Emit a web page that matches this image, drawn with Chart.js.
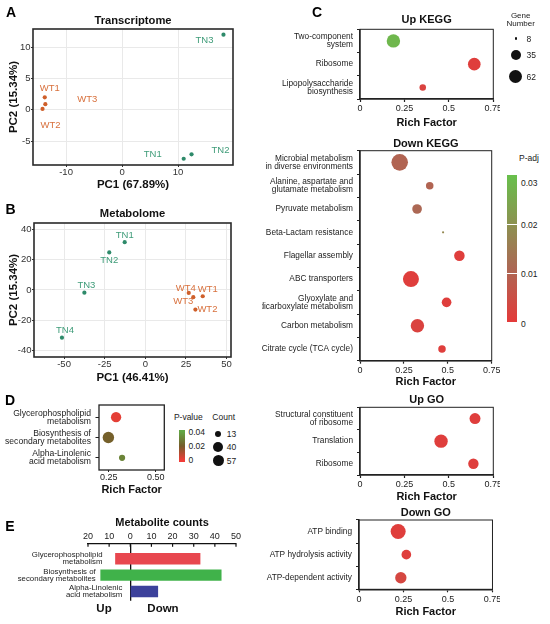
<!DOCTYPE html>
<html><head><meta charset="utf-8">
<script src="https://cdn.jsdelivr.net/npm/chart.js@4.4.1/dist/chart.umd.min.js"></script>
<style>
html,body{margin:0;padding:0;background:#fff;}
#fig{position:relative;width:550px;height:624px;overflow:hidden;font-family:'Liberation Sans',Arial,Helvetica,sans-serif;color:#1a1a1a;background:#fff;}
#fig canvas{position:absolute;}
.t{position:absolute;white-space:nowrap;line-height:1;}
.dot{position:absolute;border-radius:50%;background:#111;}
</style></head><body><div id="fig"></div>
<script>
// ================= DATA =================
// A: Transcriptome PCA
const A_samples = ['WT1','WT2','WT3','TN1','TN2','TN3'];
const A_pc1 = [-13.8, -14.2, -13.7, 11.0, 12.4, 18.1];
const A_pc2 = [2.0, 0.15, 0.9, -7.8, -7.1, 12.0];
const A_xTicks = [-10, 0, 10];
const A_yTicks = [-5, 0, 5, 10];

// B: Metabolome PCA
const B_samples = ['TN1','TN2','TN3','TN4','WT1','WT2','WT3','WT4'];
const B_pc1 = [-12.7, -22.2, -37.5, -51.3, 35.3, 30.8, 29.5, 26.7];
const B_pc2 = [31.6, 24.8, -1.8, -31.6, -4.2, -13.0, -4.8, -2.0];
const B_xTicks = [-50, -25, 0, 25, 50];
const B_yTicks = [-40, -20, 0, 20, 40];

// C: enrichment bubble plots
const C_xTicks = [0, 0.25, 0.5, 0.75];
const UK_terms = [['Two-component','system'], 'Ribosome', ['Lipopolysaccharide','biosynthesis']];
const UK_rich  = [0.188, 0.643, 0.353];
const UK_padj  = [0.028, 0.001, 0.002];
const UK_genes = [62, 55, 16];

const DK_terms = [['Microbial metabolism','in diverse environments'], ['Alanine, aspartate and','glutamate metabolism'],
  'Pyruvate metabolism', 'Beta-Lactam resistance', 'Flagellar assembly', 'ABC transporters',
  ['Glyoxylate and','dicarboxylate metabolism'], 'Carbon metabolism', 'Citrate cycle (TCA cycle)'];
const DK_rich  = [0.226, 0.397, 0.325, 0.473, 0.566, 0.290, 0.493, 0.327, 0.467];
const DK_padj  = [0.010, 0.010, 0.011, 0.018, 0.001, 0.001, 0.001, 0.002, 0.001];
const DK_genes = [97, 20, 32, 8, 38, 90, 32, 62, 20];

const UG_terms = [['Structural constituent','of ribosome'], 'Translation', 'Ribosome'];
const UG_rich  = [0.647, 0.456, 0.638];
const UG_padj  = [0.001, 0.001, 0.001];
const UG_genes = [41, 62, 37];

const DG_terms = ['ATP binding', 'ATP hydrolysis activity', 'ATP-dependent activity'];
const DG_rich  = [0.220, 0.266, 0.235];
const DG_padj  = [0.001, 0.001, 0.003];
const DG_genes = [79, 32, 44];

const GENE_legend = [8, 35, 62];
const PADJ_ticks = [0.03, 0.02, 0.01, 0];

// D: metabolite KEGG enrichment
const D_terms = [['Glycerophospholipid','metabolism'], ['Biosynthesis of','secondary metabolites'], ['Alpha-Linolenic','acid metabolism']];
const D_rich  = [0.289, 0.248, 0.321];
const D_pval  = [0.002, 0.021, 0.031];
const D_count = [40, 57, 13];
const D_xTicks = [0.25, 0.5];
const COUNT_legend = [13, 40, 57];
const PVAL_ticks = [0.04, 0.02, 0];

// E: metabolite counts
const E_terms = [['Glycerophospholipid','metabolism'], ['Biosynthesis of','secondary metabolites'], ['Alpha-Linolenic','acid metabolism']];
const E_up   = [7, 14, 0];
const E_down = [33, 43, 13];
const E_xTicks = [-20, -10, 0, 10, 20, 30, 40, 50];

// ================= STYLE =================
const FONT = "'Liberation Sans', Arial, Helvetica, sans-serif";
Chart.defaults.font.family = FONT;
Chart.defaults.color = '#222';
Chart.defaults.animation = false;
Chart.defaults.responsive = false;
Chart.defaults.plugins.legend.display = false;
Chart.defaults.plugins.tooltip.enabled = false;

const WT_PT = '#CF5F2A', TN_PT = '#2E8A6A', WT_TX = '#D8703C', TN_TX = '#3F9C79';
const A_labelShift = [[5,-9],[8,16],[42,-5],[-31,-4],[29,-4],[-19,6]];
const B_labelShift = [[0,-7],[0,8],[2,-7],[3,-7],[5,-7],[12,0],[-10,4],[-3,-5]];
const E_colors = ['#E8474F', '#40B24A', '#3C419B'];
const E_labelGap = [13, 5, 8];

const PADJ_stops = [[0,[228,58,58]],[0.011,[172,104,84]],[0.03,[104,192,76]]];
const PVAL_stops = [[0,[240,60,55]],[0.02,[118,92,42]],[0.04,[98,165,68]]];
function lerpStops(stops, v){
  if (v <= stops[0][0]) return stops[0][1];
  for (let i=1;i<stops.length;i++){
    if (v <= stops[i][0]){
      const [a,ca]=stops[i-1],[b,cb]=stops[i],t=(v-a)/(b-a);
      return ca.map((c,k)=>Math.round(c+(cb[k]-c)*t));
    }
  }
  return stops[stops.length-1][1];
}
const rgb = c => `rgb(${c[0]},${c[1]},${c[2]})`;
const padjColor = p => rgb(lerpStops(PADJ_stops, p));
const pvalColor = p => rgb(lerpStops(PVAL_stops, p));
const geneRadius = n => 1.1 + 5.6*Math.sqrt(Math.max(0,n-8)/54);
const countRadius = n => 3.1 + 2.6*Math.sqrt(Math.max(0,n-13)/44);
const isWT = s => s.startsWith('WT');

// ================= HELPERS =================
const fig = document.getElementById('fig');
function canvasAt(c){
  const el=document.createElement('canvas');
  const w=c[2]-c[0], h=c[3]-c[1];
  el.width=w; el.height=h;
  el.style.left=c[0]+'px'; el.style.top=c[1]+'px';
  el.style.width=w+'px'; el.style.height=h+'px';
  fig.appendChild(el); return el;
}
function txt(s,x,y,o={}){
  const d=document.createElement('div'); d.className='t'; d.textContent=s;
  d.style.fontSize=(o.size||9)+'px'; if(o.bold) d.style.fontWeight='bold';
  d.style.color=o.color||'#1a1a1a'; d.style.top=y+'px';
  const al=o.align||'center';
  if(al==='center'){d.style.left=x+'px'; d.style.transform='translate(-50%,-50%)';}
  else if(al==='left'){d.style.left=x+'px'; d.style.transform='translateY(-50%)';}
  else {d.style.right=(550-x)+'px'; d.style.transform='translateY(-50%)';}
  fig.appendChild(d); return d;
}
function dot(x,y,r,color){
  const d=document.createElement('div'); d.className='dot';
  d.style.left=(x-r)+'px'; d.style.top=(y-r)+'px'; d.style.width=(2*r)+'px'; d.style.height=(2*r)+'px';
  if(color) d.style.background=color; fig.appendChild(d);
}
function box(x,y,w,h,bg){
  const d=document.createElement('div'); d.style.position='absolute';
  d.style.left=x+'px'; d.style.top=y+'px'; d.style.width=w+'px'; d.style.height=h+'px'; d.style.background=bg;
  fig.appendChild(d); return d;
}
const LH = 1.2;
const fixX = h => s => { s.height=h; s.paddingLeft=0; s.paddingRight=0; };
const fixY = w => s => { s.width=w; s.paddingTop=0; s.paddingBottom=0; };
const setTicks = vals => s => { s.ticks = vals.map(v=>({value:v})); };
function titleOpt(text,size,cy,area,canvas){
  const h=area[1]-canvas[1], lh=size*LH, pb=area[1]-cy-lh/2, pt=h-lh-pb;
  return {display:true,text,fullSize:false,font:{size,weight:'bold'},color:'#111',padding:{top:pt,bottom:pb}};
}
const xTitleBottom=(text,size,cy,cb)=>({display:true,text,font:{size,weight:'bold'},color:'#111',padding:{top:0,bottom:cb-cy-size*LH/2}});
const xTitleTop=(text,size,cy,ct)=>({display:true,text,font:{size,weight:'bold'},color:'#111',padding:{top:cy-ct-size*LH/2,bottom:0}});
const yTitleLeft=(text,size,cx,cl)=>({display:true,text,font:{size,weight:'bold'},color:'#111',padding:{top:cx-cl-size*LH/2,bottom:0}});
function framePlugin(w,color){
  return {id:'frame',afterDraw(chart){
    const a=chart.chartArea,ctx=chart.ctx; ctx.save(); ctx.strokeStyle=color; ctx.lineWidth=w;
    ctx.strokeRect(a.left,a.top,a.right-a.left,a.bottom-a.top); ctx.restore();
  }};
}
function labelPlugin(names,shift){
  return {id:'ptlabels',afterDatasetsDraw(chart){
    const meta=chart.getDatasetMeta(0),ctx=chart.ctx; ctx.save();
    ctx.font=`9.5px ${FONT}`; ctx.textAlign='center'; ctx.textBaseline='middle';
    names.forEach((n,i)=>{const p=meta.data[i]; ctx.fillStyle=isWT(n)?WT_TX:TN_TX; ctx.fillText(n,p.x+shift[i][0],p.y+shift[i][1]);});
    ctx.restore();
  }};
}

// ================= PCA PANELS =================
function pcaChart(canvas,area,title,titleCy,names,pc1,pc2,xr,yr,xt,yt,xlab,xCy,ylab,yCx,shift){
  new Chart(canvasAt(canvas),{
    type:'scatter',
    data:{datasets:[{data:names.map((s,i)=>({x:pc1[i],y:pc2[i]})),
      pointRadius:2.1,pointHoverRadius:2.1,pointBorderWidth:0,
      pointBackgroundColor:names.map(s=>isWT(s)?WT_PT:TN_PT)}]},
    options:{
      layout:{padding:{left:0,top:0,right:canvas[2]-area[2],bottom:0}},
      plugins:{title:titleOpt(title,11.2,titleCy,area,canvas)},
      scales:{
        x:{type:'linear',min:xr[0],max:xr[1],afterBuildTicks:setTicks(xt),afterFit:fixX(canvas[3]-area[3]),
          ticks:{callback:v=>String(v),font:{size:9.5},color:'#333',padding:0,maxRotation:0},
          grid:{color:'#E9E9E9',tickLength:2,tickColor:'#333'},border:{display:false},
          title:xTitleBottom(xlab,11.5,xCy,canvas[3])},
        y:{type:'linear',min:yr[0],max:yr[1],afterBuildTicks:setTicks(yt),afterFit:fixY(area[0]-canvas[0]),
          ticks:{callback:v=>String(v),font:{size:9.5},color:'#333',padding:0.5},
          grid:{color:'#E9E9E9',tickLength:2,tickColor:'#333'},border:{display:false},
          title:yTitleLeft(ylab,11.5,yCx,canvas[0])}
      }
    },
    plugins:[framePlugin(1.6,'#2a2a2a'),labelPlugin(names,shift)]
  });
}
pcaChart([0,8,240,192],[33,29,233,165],'Transcriptome',20.5,A_samples,A_pc1,A_pc2,[-15.9,19.8],[-8.8,12.9],
  A_xTicks,A_yTicks,'PC1 (67.89%)',184.5,'PC2 (15.34%)',13.5,A_labelShift);
pcaChart([0,203,240,386],[34,223,231,357],'Metabolome',214.3,B_samples,B_pc1,B_pc2,[-68.5,52.7],[-44.4,44.3],
  B_xTicks,B_yTicks,'PC1 (46.41%)',377.7,'PC2 (15.34%)',13.5,B_labelShift);

// ================= C PANELS =================
function cChart(canvas,area,title,titleCy,xTitleCy,terms,rich,padj,genes){
  new Chart(canvasAt(canvas),{
    type:'scatter',
    data:{datasets:[{data:rich.map((x,i)=>({x,y:i})),
      pointRadius:c=>geneRadius(genes[c.dataIndex]),pointHoverRadius:c=>geneRadius(genes[c.dataIndex]),
      pointBackgroundColor:c=>padjColor(padj[c.dataIndex]),pointBorderWidth:0}]},
    options:{
      layout:{padding:{left:0,top:0,right:canvas[2]-area[2],bottom:0}},
      plugins:{title:titleOpt(title,11,titleCy,area,canvas)},
      scales:{
        x:{type:'linear',min:0,max:0.75,afterBuildTicks:setTicks(C_xTicks),afterFit:fixX(canvas[3]-area[3]),
          ticks:{callback:v=>String(v),font:{size:9},color:'#222',padding:1.5,maxRotation:0},
          grid:{drawOnChartArea:false,tickLength:3,tickColor:'#222',tickWidth:1.2},
          border:{color:'#222',width:1.5},
          title:xTitleBottom('Rich Factor',11,xTitleCy,canvas[3])},
        y:{type:'category',labels:terms,offset:true,afterFit:fixY(area[0]-canvas[0]),
          ticks:{font:{size:8.3,lineHeight:0.94},color:'#222',padding:4,autoSkip:false},
          grid:{offset:true,drawOnChartArea:false,tickLength:3,tickColor:'#222',tickWidth:1.2},
          border:{color:'#222',width:1.5}}
      }
    },
    plugins:[framePlugin(1,'#222')]
  });
}
cChart([262,10,500,130],[360,29.3,496,99],'Up KEGG',20,123.3,UK_terms,UK_rich,UK_padj,UK_genes);
cChart([262,134,500,389],[360,150.7,496,360.7],'Down KEGG',144,382,DK_terms,DK_rich,DK_padj,DK_genes);
cChart([262,390,500,504],[360,407.3,496,475],'Up GO',400,496.7,UG_terms,UG_rich,UG_padj,UG_genes);
cChart([262,505,500,619],[359,520,495,589.3],'Down GO',513.3,611.7,DG_terms,DG_rich,DG_padj,DG_genes);

// ================= D PANEL =================
(function(){
  const canvas=[0,398,170,500], area=[99,405,164.3,470];
  new Chart(canvasAt(canvas),{
    type:'scatter',
    data:{datasets:[{data:D_rich.map((x,i)=>({x,y:i+1})),
      pointRadius:c=>countRadius(D_count[c.dataIndex]),pointHoverRadius:c=>countRadius(D_count[c.dataIndex]),
      pointBackgroundColor:c=>pvalColor(D_pval[c.dataIndex]),pointBorderWidth:0}]},
    options:{
      layout:{padding:{left:0,top:area[1]-canvas[1],right:canvas[2]-area[2],bottom:0}},
      scales:{
        x:{type:'linear',min:0.198,max:0.546,afterBuildTicks:setTicks(D_xTicks),afterFit:fixX(canvas[3]-area[3]),
          ticks:{callback:v=>v.toFixed(2),font:{size:9},color:'#222',padding:0.5,maxRotation:0},
          grid:{drawOnChartArea:false,tickLength:2,tickColor:'#222'},border:{display:false},
          title:xTitleBottom('Rich Factor',11,490,canvas[3])},
        y:{type:'linear',reverse:true,min:0.4,max:3.6,afterBuildTicks:setTicks(D_terms.map((t,i)=>i+1)),
          afterFit:fixY(area[0]-canvas[0]),
          ticks:{callback:v=>D_terms[v-1],font:{size:8.6,lineHeight:0.92},color:'#222',padding:4.5},
          grid:{drawOnChartArea:false,tickLength:3.5,tickColor:'#222'},border:{display:false}}
      }
    },
    plugins:[framePlugin(1.3,'#222')]
  });
})();

// ================= E PANEL =================
(function(){
  const canvas=[0,515,245,604], area=[88,543.3,236,600.7];
  new Chart(canvasAt(canvas),{
    type:'bar',
    data:{datasets:[{data:E_terms.map((t,i)=>({y:i+1,x:[-E_up[i],E_down[i]]})),
      backgroundColor:E_colors,borderWidth:0,barThickness:10.7}]},
    options:{
      indexAxis:'y',
      layout:{padding:{left:area[0]-canvas[0],top:0,right:canvas[2]-area[2],bottom:canvas[3]-area[3]}},
      scales:{
        x:{type:'linear',position:'top',min:-20,max:50,afterBuildTicks:setTicks(E_xTicks),afterFit:fixX(area[1]-canvas[1]),
          ticks:{callback:v=>String(Math.abs(v)),font:{size:9},color:'#222',padding:1.2,maxRotation:0},
          grid:{drawTicks:false,lineWidth:1.3,color:c=>(c.tick&&c.tick.value===0)?'#111':'rgba(0,0,0,0)'},
          border:{color:'#111',width:1.3},
          title:xTitleTop('Metabolite counts',11,523.3,canvas[1])},
        y:{type:'linear',display:false,reverse:true,min:0.06,max:3.56,offset:false,grid:{offset:false}}
      }
    },
    plugins:[{id:'eextra',afterDraw(chart){
      const xs=chart.scales.x, ys=chart.scales.y, ctx=chart.ctx, y0=chart.chartArea.top;
      ctx.save(); ctx.strokeStyle='#111'; ctx.lineWidth=1.2;
      xs.ticks.forEach(t=>{const px=xs.getPixelForValue(t.value); ctx.beginPath(); ctx.moveTo(px,y0); ctx.lineTo(px,y0+3.5); ctx.stroke();});
      ctx.fillStyle='#222'; ctx.font=`7.8px ${FONT}`; ctx.textAlign='right'; ctx.textBaseline='middle';
      E_terms.forEach((lines,i)=>{
        const x=xs.getPixelForValue(-E_up[i])-E_labelGap[i], yc=ys.getPixelForValue(i+1), lh=6.8;
        lines.forEach((ln,k)=>ctx.fillText(ln,x,yc+(k-(lines.length-1)/2)*lh));
      });
      ctx.restore();
    }}]
  });
})();

// ================= LEGENDS & LETTERS =================
txt('A',11,12,{size:14,bold:true,color:'#000'});
txt('B',10.5,208.7,{size:14,bold:true,color:'#000'});
txt('C',317,11.8,{size:14,bold:true,color:'#000'});
txt('D',10,399.5,{size:14,bold:true,color:'#000'});
txt('E',10,526,{size:14,bold:true,color:'#000'});
txt('Up',104,609,{size:11.5,bold:true,color:'#111'});
txt('Down',163,609,{size:11.5,bold:true,color:'#111'});

// Gene Number legend
txt('Gene',520.7,15.5,{size:8});
txt('Number',520.7,23.5,{size:8});
const geneY=[38.5,55,76.5];
GENE_legend.forEach((n,i)=>{dot(515.7,geneY[i],geneRadius(n)); txt(String(n),526.5,geneY[i],{size:8.5,align:'left'});});

// P-adj colorbar
txt('P-adj',529,158.3,{size:8.5});
(function(){
  const top=175,bot=322.3,x=506.7,w=10,max=0.03;
  const g=PADJ_stops.map(([v,c])=>`${rgb(c)} ${(v/max*100).toFixed(1)}%`).join(',');
  box(x,top,w,bot-top,`linear-gradient(to top, ${g})`);
  [0.01,0.02].forEach(v=>box(x,bot-(bot-top)*v/max-0.5,w,1.2,'#fff'));
  const ly={0.03:183.3,0.02:225,0.01:274,0:324};
  PADJ_ticks.forEach(v=>txt(String(v),521,ly[v],{size:8.5,align:'left'}));
})();

// D legends
txt('P-value',188.3,416.7,{size:8.5});
(function(){
  const x=178.7,top=430,bot=461.7,w=6.6,max=0.0425,min=-0.0024;
  const g=PVAL_stops.map(([v,c])=>`${rgb(c)} ${((v-min)/(max-min)*100).toFixed(1)}%`).join(',');
  box(x,top,w,bot-top,`linear-gradient(to top, ${g})`);
  const ly={0.04:431.7,0.02:445.7,0:460};
  PVAL_ticks.forEach(v=>txt(String(v),188.5,ly[v],{size:8.5,align:'left'}));
})();
txt('Count',223.7,416.7,{size:8.5});
const cntY=[434.3,447.3,460.7];
COUNT_legend.forEach((n,i)=>{dot(218.3,cntY[i],countRadius(n)); txt(String(n),226.7,cntY[i],{size:8.5,align:'left'});});
</script></body></html>
